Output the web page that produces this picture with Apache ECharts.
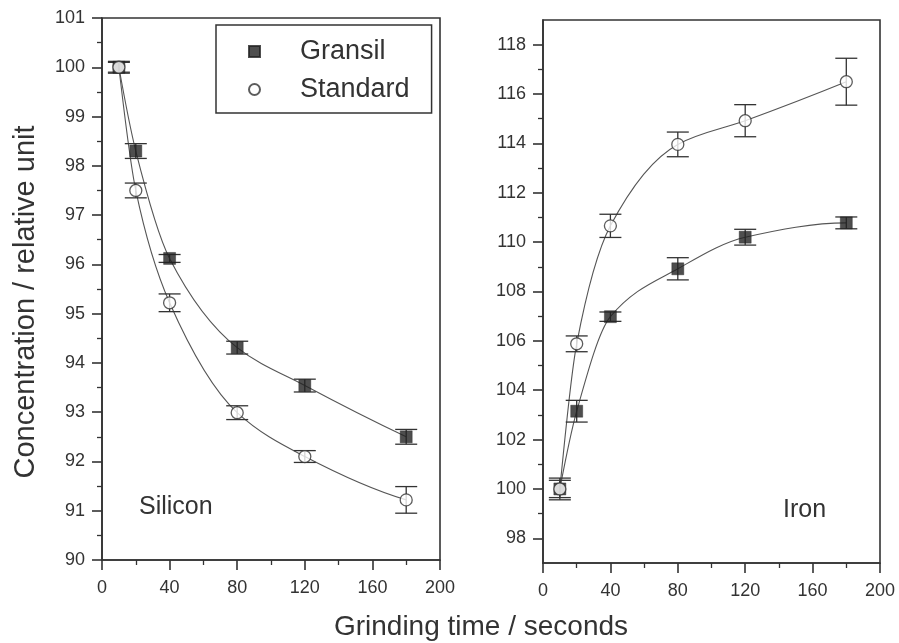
<!DOCTYPE html>
<html>
<head>
<meta charset="utf-8">
<script src="https://cdn.jsdelivr.net/npm/echarts@6/dist/echarts.min.js"></script>
<style>
  html, body { margin: 0; padding: 0; background: #fff; }
  #chart { width: 899px; height: 643px; }
</style>
</head>
<body>
<div id="chart"></div>
<script>
// Grinding times (seconds) at which both materials were sampled
const times = [10, 20, 40, 80, 120, 180];

// Silicon concentration (relative units) and error half-widths
const siliconGransil = [100.0, 98.3, 96.12, 94.31, 93.54, 92.5];
const siliconGransilErr = [0.1, 0.15, 0.08, 0.13, 0.13, 0.15];
const siliconStandard = [100.0, 97.5, 95.22, 92.99, 92.1, 91.22];
const siliconStandardErr = [0.12, 0.15, 0.18, 0.14, 0.12, 0.27];

// Iron concentration (relative units) and error half-widths
const ironGransil = [100.0, 103.15, 106.98, 108.92, 110.2, 110.78];
const ironGransilErr = [0.35, 0.44, 0.19, 0.45, 0.32, 0.24];
const ironStandard = [100.0, 105.88, 110.66, 113.96, 114.92, 116.5];
const ironStandardErr = [0.44, 0.32, 0.47, 0.5, 0.65, 0.95];

// Axis ticks
const ironMajorTicks = [98, 100, 102, 104, 106, 108, 110, 112, 114, 116, 118];
const ironMinorTicks = [99, 101, 103, 105, 107, 109, 111, 113, 115, 117];

const FONT = "'Liberation Sans', Arial, Helvetica, sans-serif";
const INK = '#333';

const pairs = (ys) => times.map((t, i) => [t, ys[i]]);
const triples = (ys, errs) => times.map((t, i) => [t, ys[i], errs[i]]);

// Shape-preserving (PCHIP) tangents so the trend curve through the points stays monotone
function pchipSlopes(xs, ys) {
  const n = xs.length, h = [], d = [], m = new Array(n).fill(0);
  for (let k = 0; k < n - 1; k++) {
    h[k] = xs[k + 1] - xs[k];
    d[k] = (ys[k + 1] - ys[k]) / h[k];
  }
  for (let k = 1; k < n - 1; k++) {
    if (d[k - 1] * d[k] <= 0) { m[k] = 0; continue; }
    const w1 = 2 * h[k] + h[k - 1], w2 = h[k] + 2 * h[k - 1];
    m[k] = (w1 + w2) / (w1 / d[k - 1] + w2 / d[k]);
  }
  const end = (h0, h1, d0, d1) => {
    let s = ((2 * h0 + h1) * d0 - h0 * d1) / (h0 + h1);
    if (Math.sign(s) !== Math.sign(d0)) s = 0;
    else if (Math.sign(d0) !== Math.sign(d1) && Math.abs(s) > Math.abs(3 * d0)) s = 3 * d0;
    return s;
  };
  m[0] = end(h[0], h[1], d[0], d[1]);
  m[n - 1] = end(h[n - 2], h[n - 3], d[n - 2], d[n - 3]);
  return m;
}

function errorBar(params, api) {
  const x = api.value(0), y = api.value(1), e = api.value(2);
  const hi = api.coord([x, y + e]);
  const lo = api.coord([x, y - e]);
  const half = 11;
  const style = { stroke: INK, lineWidth: 1.3, fill: null };
  return {
    type: 'group',
    children: [
      { type: 'line', shape: { x1: hi[0], y1: hi[1], x2: lo[0], y2: lo[1] }, style },
      { type: 'line', shape: { x1: hi[0] - half, y1: hi[1], x2: hi[0] + half, y2: hi[1] }, style },
      { type: 'line', shape: { x1: lo[0] - half, y1: lo[1], x2: lo[0] + half, y2: lo[1] }, style }
    ]
  };
}

const axisLineStyle = { color: INK, width: 1.6 };
const tickLabel = { color: INK, fontSize: 18, fontFamily: FONT };

function xAxisFor(gridIndex) {
  return {
    type: 'value', gridIndex, min: 0, max: 200, interval: 40,
    axisLine: { show: true, onZero: false, lineStyle: axisLineStyle },
    axisTick: { show: true, length: 10, lineStyle: axisLineStyle },
    minorTick: { show: true, splitNumber: 2, length: 5, lineStyle: { color: INK, width: 1.3 } },
    axisLabel: Object.assign({ margin: 19 }, tickLabel),
    splitLine: { show: false }, minorSplitLine: { show: false }
  };
}

// Smooth trend curve drawn segment by segment as cubic Bézier pieces
function trend(name, xi, yi, ys) {
  const slopes = pchipSlopes(times, ys);
  return {
    name, type: 'custom', xAxisIndex: xi, yAxisIndex: yi, data: pairs(ys),
    encode: { x: 0, y: 1 }, silent: true, z: 2,
    renderItem: (params, api) => {
      const i = params.dataIndex;
      if (i >= times.length - 1) return null;
      const x0 = times[i], x1 = times[i + 1], y0 = ys[i], y1 = ys[i + 1], h = x1 - x0;
      const p0 = api.coord([x0, y0]);
      const p1 = api.coord([x1, y1]);
      const c1 = api.coord([x0 + h / 3, y0 + slopes[i] * h / 3]);
      const c2 = api.coord([x1 - h / 3, y1 - slopes[i + 1] * h / 3]);
      return {
        type: 'bezierCurve',
        shape: { x1: p0[0], y1: p0[1], x2: p1[0], y2: p1[1], cpx1: c1[0], cpy1: c1[1], cpx2: c2[0], cpy2: c2[1] },
        style: { stroke: '#555', lineWidth: 1.1, fill: null }
      };
    }
  };
}

function bars(name, xi, yi, ys, errs) {
  return {
    name, type: 'custom', xAxisIndex: xi, yAxisIndex: yi, data: triples(ys, errs),
    encode: { x: 0, y: 1 }, renderItem: errorBar, silent: true, z: 3
  };
}

function points(name, xi, yi, ys, filled) {
  return {
    name, type: 'scatter', xAxisIndex: xi, yAxisIndex: yi, data: pairs(ys), z: 4,
    symbol: filled ? 'rect' : 'circle',
    symbolSize: 12,
    itemStyle: filled
      ? { color: '#222', borderColor: '#222', borderWidth: 0.5 }
      : { color: '#fff', borderColor: INK, borderWidth: 1.3 }
  };
}

const chart = echarts.init(document.getElementById('chart'), null, { renderer: 'canvas' });

chart.setOption({
  backgroundColor: '#fff',
  animation: false,
  textStyle: { fontFamily: FONT },
  grid: [
    { left: 102, top: 18, width: 338, height: 542, show: true, borderColor: INK, borderWidth: 1.6, containLabel: false },
    { left: 543, top: 20, width: 337, height: 543, show: true, borderColor: INK, borderWidth: 1.6, containLabel: false }
  ],
  xAxis: [xAxisFor(0), xAxisFor(1)],
  yAxis: [
    {
      type: 'value', gridIndex: 0, min: 90, max: 101, interval: 1,
      axisLine: { show: true, lineStyle: axisLineStyle },
      axisTick: { show: true, length: 10, lineStyle: axisLineStyle },
      minorTick: { show: true, splitNumber: 2, length: 5, lineStyle: { color: INK, width: 1.3 } },
      axisLabel: Object.assign({ margin: 17 }, tickLabel),
      splitLine: { show: false }, minorSplitLine: { show: false }
    },
    {
      type: 'value', gridIndex: 1, min: 97, max: 119,
      axisLine: { show: true, lineStyle: axisLineStyle },
      axisTick: { show: true, length: 10, customValues: ironMajorTicks, lineStyle: axisLineStyle },
      axisLabel: Object.assign({ margin: 17, customValues: ironMajorTicks }, tickLabel),
      splitLine: { show: false }
    },
    {
      // short ticks at the odd values of the iron scale
      type: 'value', gridIndex: 1, min: 97, max: 119, position: 'left',
      axisLine: { show: false },
      axisTick: { show: true, length: 5, customValues: ironMinorTicks, lineStyle: { color: INK, width: 1.3 } },
      axisLabel: { show: false },
      splitLine: { show: false }
    }
  ],
  legend: {
    data: [{ name: 'Gransil', icon: 'rect' }, { name: 'Standard', icon: 'circle' }],
    orient: 'vertical', left: 216, top: 25,
    padding: [13, 22, 10, 32],
    itemWidth: 11, itemHeight: 11, itemGap: 11,
    borderColor: INK, borderWidth: 1.5, borderRadius: 0,
    selectedMode: false,
    textStyle: { fontSize: 27, color: INK, fontFamily: FONT, padding: [0, 0, 0, 35] }
  },
  graphic: [
    {
      type: 'text', x: 26, y: 302, rotation: Math.PI / 2,
      style: { text: 'Concentration / relative unit', fontSize: 29, fontFamily: FONT, fill: INK, align: 'center', verticalAlign: 'middle' }
    },
    {
      type: 'text', x: 481, y: 627,
      style: { text: 'Grinding time / seconds', fontSize: 28, fontFamily: FONT, fill: INK, align: 'center', verticalAlign: 'middle' }
    },
    {
      type: 'text', x: 139, y: 507,
      style: { text: 'Silicon', fontSize: 25, fontFamily: FONT, fill: INK, align: 'left', verticalAlign: 'middle' }
    },
    {
      type: 'text', x: 783, y: 510,
      style: { text: 'Iron', fontSize: 25, fontFamily: FONT, fill: INK, align: 'left', verticalAlign: 'middle' }
    }
  ],
  series: [
    trend('Gransil fit Si', 0, 0, siliconGransil),
    trend('Standard fit Si', 0, 0, siliconStandard),
    trend('Gransil fit Fe', 1, 1, ironGransil),
    trend('Standard fit Fe', 1, 1, ironStandard),
    bars('Gransil err Si', 0, 0, siliconGransil, siliconGransilErr),
    bars('Standard err Si', 0, 0, siliconStandard, siliconStandardErr),
    bars('Gransil err Fe', 1, 1, ironGransil, ironGransilErr),
    bars('Standard err Fe', 1, 1, ironStandard, ironStandardErr),
    points('Gransil', 0, 0, siliconGransil, true),
    points('Standard', 0, 0, siliconStandard, false),
    points('Gransil', 1, 1, ironGransil, true),
    points('Standard', 1, 1, ironStandard, false)
  ]
});
</script>
</body>
</html>
